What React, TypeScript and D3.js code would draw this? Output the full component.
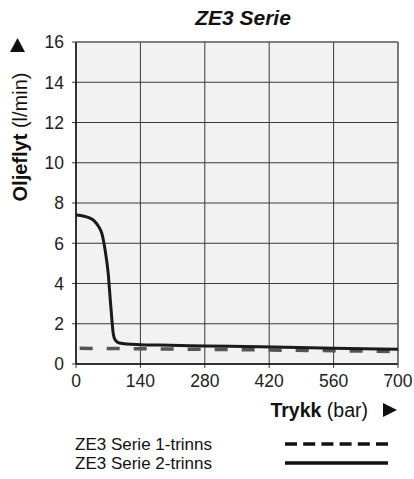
import React from "react";
import * as d3 from "d3";

const xTicks = [0, 140, 280, 420, 560, 700];
const yTicks = [0, 2, 4, 6, 8, 10, 12, 14, 16];

const twoStageX = [0, 10, 20, 30, 40, 50, 56, 63, 70, 74, 78, 81, 85, 92, 100, 110, 140, 182, 280, 400, 560, 700];
const twoStageY = [7.4, 7.38, 7.33, 7.25, 7.1, 6.8, 6.5, 5.7, 4.5, 3.34, 2.2, 1.5, 1.2, 1.06, 1.02, 0.99, 0.96, 0.94, 0.9, 0.86, 0.78, 0.73];

const oneStageX = [8, 270, 700];
const oneStageY = [0.78, 0.73, 0.62];

const seriesNames = ["ZE3 Serie 1-trinns", "ZE3 Serie 2-trinns"];

const W = 414;
const H = 479;
const M = { left: 76, right: 398, top: 42, bottom: 364 };
const FONT = "'Liberation Sans', Arial, Helvetica, sans-serif";

export default function App() {
  const x = d3.scaleLinear().domain([0, 700]).range([M.left, M.right]);
  const y = d3.scaleLinear().domain([0, 16]).range([M.bottom, M.top]);

  const line = d3
    .line<[number, number]>()
    .x((d) => x(d[0]))
    .y((d) => y(d[1]))
    .curve(d3.curveMonotoneX);

  const two: [number, number][] = twoStageX.map((v, i) => [v, twoStageY[i]]);
  const one: [number, number][] = oneStageX.map((v, i) => [v, oneStageY[i]]);

  return (
    <svg
      width={W}
      height={H}
      style={{ position: "absolute", left: 0, top: 0, background: "#fff" }}
      fontFamily={FONT}
    >
      <text x={243} y={25} textAnchor="middle" fontSize={21} fontWeight="bold" fontStyle="italic" fill="#111">
        ZE3 Serie
      </text>

      <rect x={M.left} y={M.top} width={M.right - M.left} height={M.bottom - M.top} fill="#f2f2f2" />

      {xTicks.map((t) => (
        <line key={"gx" + t} x1={x(t)} x2={x(t)} y1={M.top} y2={M.bottom + 4} stroke="#3a3a3a" strokeWidth={1} />
      ))}
      {yTicks.map((t) => (
        <line key={"gy" + t} x1={M.left - 4} x2={M.right} y1={y(t)} y2={y(t)} stroke="#3a3a3a" strokeWidth={1} />
      ))}
      <line x1={M.left} x2={M.left} y1={M.top} y2={M.bottom} stroke="#111" strokeWidth={1.5} />
      <line x1={M.left} x2={M.right} y1={M.bottom} y2={M.bottom} stroke="#111" strokeWidth={1.5} />
      <line x1={M.right} x2={M.right} y1={M.top} y2={M.bottom} stroke="#666" strokeWidth={1.2} />
      <line x1={M.left} x2={M.right} y1={M.top} y2={M.top} stroke="#666" strokeWidth={1.2} />

      <path d={line(one) || ""} fill="none" stroke="#555" strokeWidth={3.5} strokeDasharray="13 14" />
      <path d={line(two) || ""} fill="none" stroke="#1a1a1a" strokeWidth={3} strokeLinejoin="round" />

      {yTicks.map((t) => (
        <text key={"ty" + t} x={64} y={y(t)} dy="0.36em" textAnchor="end" fontSize={17.5} fill="#222">
          {t}
        </text>
      ))}
      {xTicks.map((t) => (
        <text key={"tx" + t} x={x(t)} y={387} textAnchor="middle" fontSize={17.5} fill="#222">
          {t}
        </text>
      ))}

      <path d="M10,52 L17.5,38 L25,52 Z" fill="#111" />
      <text transform={`translate(26.5,137) rotate(-90)`} textAnchor="middle" fontSize={20} fill="#111">
        <tspan fontWeight="bold">Oljeflyt</tspan>
        <tspan> (l/min)</tspan>
      </text>

      <text x={368} y={417} textAnchor="end" fontSize={19.5} fill="#111">
        <tspan fontWeight="bold">Trykk</tspan>
        <tspan> (bar)</tspan>
      </text>
      <path d="M383,403 L397,410 L383,417 Z" fill="#111" />

      <text x={75} y={449.5} fontSize={17} fill="#111">{seriesNames[0]}</text>
      <text x={75} y={468.5} fontSize={17} fill="#111">{seriesNames[1]}</text>
      <line x1={285} x2={388} y1={444} y2={444} stroke="#111" strokeWidth={3.5} strokeDasharray="12 6.2" />
      <line x1={285} x2={388} y1={463} y2={463} stroke="#111" strokeWidth={3.5} />
    </svg>
  );
}
